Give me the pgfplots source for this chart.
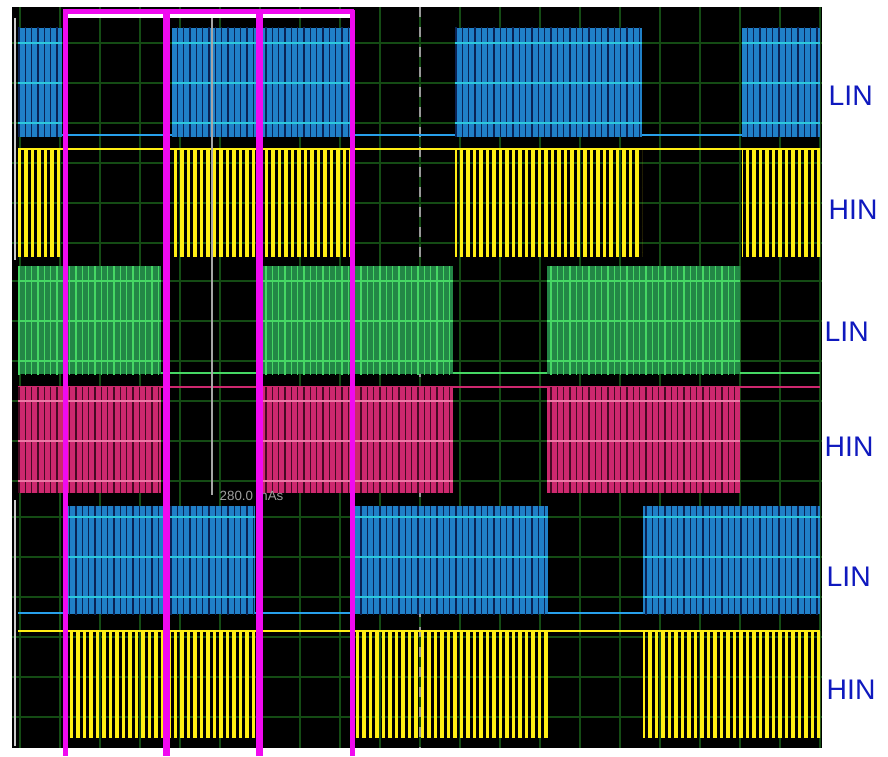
\documentclass[border=0pt]{standalone}
\usepackage{pgfplots}
\pgfplotsset{compat=1.18}
\usetikzlibrary{patterns.meta}
\usepackage{fontspec}
\setmainfont{Liberation Sans}
\definecolor{gridgreen}{RGB}{20,75,20}
\definecolor{cblue}{RGB}{32,128,200}
\definecolor{cbluedark}{RGB}{10,35,85}
\definecolor{cblueline}{RGB}{40,160,235}
\definecolor{ccyan}{RGB}{45,200,220}
\definecolor{cyel}{RGB}{255,238,20}
\definecolor{cgreen}{RGB}{35,135,70}
\definecolor{cgreenlt}{RGB}{70,215,100}
\definecolor{cpink}{RGB}{205,40,110}
\definecolor{cpinklt}{RGB}{235,120,165}
\definecolor{cpinkdark}{RGB}{70,10,35}
\definecolor{cmag}{RGB}{240,10,240}
\definecolor{labblue}{RGB}{15,25,190}
\begin{document}
\begin{tikzpicture}
\begin{axis}[
  scale only axis, width=243pt, height=222.3pt,
  xmin=12, xmax=822, ymin=7, ymax=748, y dir=reverse,
  axis background/.style={fill=black},
  axis line style={draw=none},
  xtick={20,60,...,820},
  ytick={43,83,123,163,203,243,281,321,361,401,441,481,517,557,597,637,677,717},
  xticklabels={}, yticklabels={},
  tick style={draw=none},
  grid=major, major grid style={gridgreen, line width=0.6pt},
  clip=false, unbounded coords=jump,
  blueburst/.style={draw=none, fill=cblue, postaction={pattern={Lines[angle=90,distance=1.9pt,line width=0.45pt]}, pattern color=cbluedark}},
  yelburst/.style={draw=none, pattern={Lines[angle=90,distance=1.95pt,line width=1.0pt]}, pattern color=cyel},
  greenburst/.style={draw=none, fill=cgreen, postaction={pattern={Lines[angle=90,distance=1.9pt,line width=0.4pt]}, pattern color=cgreenlt}},
  pinkburst/.style={draw=none, fill=cpink, postaction={pattern={Lines[angle=90,distance=1.9pt,line width=0.4pt]}, pattern color=cpinkdark}},
  hl/.style={line width=0.6pt},
]
% center dashed line
\addplot[gray!80, dashed, line width=0.5pt] coordinates {(420,7)(420,748)};
% ---------- top panel: LIN (blue) ----------
\addplot[cblueline, line width=0.6pt] coordinates {(18,135)(820,135)};
\addplot[blueburst] coordinates {(18,28)(62,28)(62,137)(18,137)} --cycle;
\addplot[blueburst] coordinates {(172,28)(350,28)(350,137)(172,137)} --cycle;
\addplot[blueburst] coordinates {(455,28)(642,28)(642,137)(455,137)} --cycle;
\addplot[blueburst] coordinates {(742,28)(820,28)(820,137)(742,137)} --cycle;
\addplot[ccyan, hl] coordinates {(18,43)(62,43)(nan,nan)(172,43)(350,43)(nan,nan)(455,43)(642,43)(nan,nan)(742,43)(820,43)};
\addplot[ccyan, hl] coordinates {(18,83)(62,83)(nan,nan)(172,83)(350,83)(nan,nan)(455,83)(642,83)(nan,nan)(742,83)(820,83)};
\addplot[ccyan, hl] coordinates {(18,123)(62,123)(nan,nan)(172,123)(350,123)(nan,nan)(455,123)(642,123)(nan,nan)(742,123)(820,123)};
% ---------- top panel: HIN (yellow) ----------
\addplot[cyel, line width=0.6pt] coordinates {(18,149)(820,149)};
\addplot[yelburst] coordinates {(18,149)(62,149)(62,256)(18,256)} --cycle;
\addplot[yelburst] coordinates {(172,149)(350,149)(350,256)(172,256)} --cycle;
\addplot[yelburst] coordinates {(455,149)(642,149)(642,256)(455,256)} --cycle;
\addplot[yelburst] coordinates {(742,149)(820,149)(820,256)(742,256)} --cycle;
% ---------- middle panel: LIN (green) ----------
\addplot[cgreenlt, line width=0.6pt] coordinates {(18,373)(820,373)};
\addplot[greenburst] coordinates {(18,266)(161,266)(161,374)(18,374)} --cycle;
\addplot[greenburst] coordinates {(263,266)(453,266)(453,374)(263,374)} --cycle;
\addplot[greenburst] coordinates {(547,266)(740,266)(740,374)(547,374)} --cycle;
\addplot[cgreenlt, hl] coordinates {(18,281)(161,281)(nan,nan)(263,281)(453,281)(nan,nan)(547,281)(740,281)};
\addplot[cgreenlt, hl] coordinates {(18,321)(161,321)(nan,nan)(263,321)(453,321)(nan,nan)(547,321)(740,321)};
\addplot[cgreenlt, hl] coordinates {(18,361)(161,361)(nan,nan)(263,361)(453,361)(nan,nan)(547,361)(740,361)};
% ---------- middle panel: HIN (pink) ----------
\addplot[cpink, line width=0.6pt] coordinates {(18,387)(820,387)};
\addplot[pinkburst] coordinates {(18,387)(161,387)(161,493)(18,493)} --cycle;
\addplot[pinkburst] coordinates {(263,387)(453,387)(453,493)(263,493)} --cycle;
\addplot[pinkburst] coordinates {(547,387)(740,387)(740,493)(547,493)} --cycle;
\addplot[cpinklt, hl] coordinates {(18,401)(161,401)(nan,nan)(263,401)(453,401)(nan,nan)(547,401)(740,401)};
\addplot[cpinklt, hl] coordinates {(18,441)(161,441)(nan,nan)(263,441)(453,441)(nan,nan)(547,441)(740,441)};
\addplot[cpinklt, hl] coordinates {(18,481)(161,481)(nan,nan)(263,481)(453,481)(nan,nan)(547,481)(740,481)};
% ---------- bottom panel: LIN (blue) ----------
\addplot[cblueline, line width=0.6pt] coordinates {(18,613)(820,613)};
\addplot[blueburst] coordinates {(66,506)(255,506)(255,614)(66,614)} --cycle;
\addplot[blueburst] coordinates {(355,506)(548,506)(548,614)(355,614)} --cycle;
\addplot[blueburst] coordinates {(643,506)(820,506)(820,614)(643,614)} --cycle;
\addplot[ccyan, hl] coordinates {(66,517)(255,517)(nan,nan)(355,517)(548,517)(nan,nan)(643,517)(820,517)};
\addplot[ccyan, hl] coordinates {(66,557)(255,557)(nan,nan)(355,557)(548,557)(nan,nan)(643,557)(820,557)};
\addplot[ccyan, hl] coordinates {(66,597)(255,597)(nan,nan)(355,597)(548,597)(nan,nan)(643,597)(820,597)};
% ---------- bottom panel: HIN (yellow) ----------
\addplot[cyel, line width=0.6pt] coordinates {(18,631)(820,631)};
\addplot[yelburst] coordinates {(66,631)(255,631)(255,737)(66,737)} --cycle;
\addplot[yelburst] coordinates {(355,631)(548,631)(548,737)(355,737)} --cycle;
\addplot[yelburst] coordinates {(643,631)(820,631)(820,737)(643,737)} --cycle;
% cursor line and readout
\addplot[gray!70, line width=0.4pt] coordinates {(212,10)(212,495)};
\node[anchor=west, text=gray!75, font=\fontsize{4}{4}\selectfont, inner sep=0pt] at (axis cs:219,496) {280.0 mAs};
% left border lines
\addplot[gray!40, line width=0.6pt] coordinates {(15,18)(15,260)};
\addplot[gray!40, line width=0.6pt] coordinates {(15,500)(15,746)};
% magenta markers
\addplot[white, line width=1pt] coordinates {(66,16)(351,16)};
\addplot[cmag, line width=1.5pt] coordinates {(63,12)(354,12)};
\addplot[cmag, line width=1.5pt] coordinates {(65,10)(65,756)};
\addplot[cmag, line width=2.1pt] coordinates {(166,10)(166,756)};
\addplot[cmag, line width=2.1pt] coordinates {(259,10)(259,756)};
\addplot[cmag, line width=1.5pt] coordinates {(352,10)(352,756)};
% labels
\node[anchor=west, text=labblue, font=\fontsize{8.5}{8.5}\selectfont, inner sep=0pt] at (axis cs:828,96) {LIN};
\node[anchor=west, text=labblue, font=\fontsize{8.5}{8.5}\selectfont, inner sep=0pt] at (axis cs:828,210) {HIN};
\node[anchor=west, text=labblue, font=\fontsize{8.5}{8.5}\selectfont, inner sep=0pt] at (axis cs:824,332) {LIN};
\node[anchor=west, text=labblue, font=\fontsize{8.5}{8.5}\selectfont, inner sep=0pt] at (axis cs:824,447) {HIN};
\node[anchor=west, text=labblue, font=\fontsize{8.5}{8.5}\selectfont, inner sep=0pt] at (axis cs:826,577) {LIN};
\node[anchor=west, text=labblue, font=\fontsize{8.5}{8.5}\selectfont, inner sep=0pt] at (axis cs:826,690) {HIN};
% corners of the whole picture
\coordinate (bbA) at (axis cs:0,0);
\coordinate (bbB) at (axis cs:888,756);
\end{axis}
\pgfresetboundingbox
\path[use as bounding box] (bbA) rectangle (bbB);
\end{tikzpicture}
\end{document}
